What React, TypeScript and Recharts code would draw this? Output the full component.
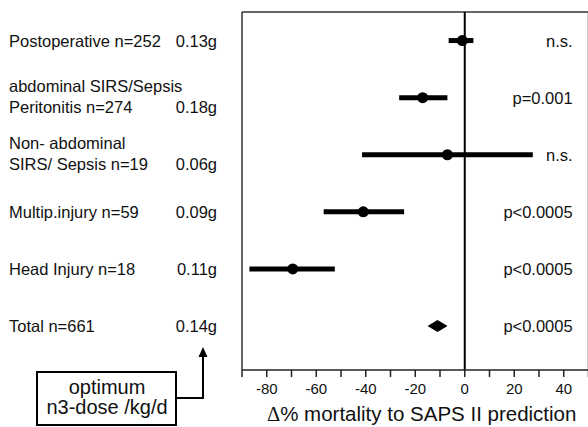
import {
  ScatterChart,
  Scatter,
  XAxis,
  YAxis,
  ErrorBar,
  ReferenceLine,
} from "recharts";

// rows, top to bottom
const rowIds = [1, 2, 3, 4, 5, 6];
const groupLabels = [
  ["Postoperative n=252"],
  ["abdominal SIRS/Sepsis", "Peritonitis n=274"],
  ["Non- abdominal", "SIRS/ Sepsis n=19"],
  ["Multip.injury n=59"],
  ["Head Injury n=18"],
  ["Total n=661"],
];
const doses = ["0.13g", "0.18g", "0.06g", "0.09g", "0.11g", "0.14g"];
const means = [-1, -17, -7, -41, -69.5, -11];
const lower = [-6.5, -26.5, -41.5, -57, -87, -14.5];
const upper = [3.5, -7, 27.5, -24.5, -52.5, -7];
const pValues = ["n.s.", "p=0.001", "n.s.", "p<0.0005", "p<0.0005", "p<0.0005"];
const xTicks = [-90, -80, -70, -60, -50, -40, -30, -20, -10, 0, 10, 20, 30, 40, 50];

const X_DOMAIN: [number, number] = [-90, 50];
const Y_DOMAIN: [number, number] = [0.5, 6.77];
const P_X = 43.6; // where the p-value column ends
const FONT = "'Liberation Sans', Arial, Helvetica, sans-serif";
const TEXT = "#111";

const subgroupData = rowIds.slice(0, 5).map((row, i) => ({
  x: means[i],
  y: row,
  err: [means[i] - lower[i], upper[i] - means[i]],
}));
const totalData = [{ x: means[5], y: rowIds[5] }];
const pData = rowIds.map((row, i) => ({ x: P_X, y: row, label: pValues[i] }));

const RowLabel = (props: any) => {
  const i = props.payload.value - 1;
  const cy = props.y;
  const lines = groupLabels[i];
  const base = lines.length === 1 ? [cy + 6] : [cy - 6, cy + 15];
  return (
    <g fontFamily={FONT} fontSize={16.5} fill={TEXT}>
      {lines.map((t, k) => (
        <text key={k} x={9} y={base[k]}>
          {t}
        </text>
      ))}
      <text x={217} y={base[base.length - 1]} textAnchor="end">
        {doses[i]}
      </text>
    </g>
  );
};

const Dot = (props: any) => <circle cx={props.cx} cy={props.cy} r={5.5} fill="#000" />;

const Diamond = (props: any) => {
  const { cx, cy } = props;
  return (
    <polygon
      points={`${cx - 10},${cy} ${cx},${cy - 6} ${cx + 10},${cy} ${cx},${cy + 6}`}
      fill="#000"
    />
  );
};

const PLabel = (props: any) => (
  <text
    x={props.cx}
    y={props.cy + 6}
    textAnchor="end"
    fontFamily={FONT}
    fontSize={16.5}
    fill={TEXT}
  >
    {props.payload.label}
  </text>
);

const AxisTitle = (props: any) => {
  const vb = props.viewBox;
  return (
    <text x={vb.x + 25} y={vb.y + 51} fontFamily={FONT} fontSize={20.5} fill={TEXT}>
      <tspan fontFamily="'Liberation Serif', 'Times New Roman', serif">Δ</tspan>
      <tspan>% mortality to SAPS II prediction</tspan>
    </text>
  );
};

const DoseNote = () => (
  <svg
    width={588}
    height={427}
    style={{ position: "absolute", left: 0, top: 0, pointerEvents: "none" }}
  >
    <rect x={37} y={372} width={139} height={53} fill="#fff" stroke="#000" strokeWidth={2} />
    <g fontFamily={FONT} fontSize={20} fill={TEXT} textAnchor="middle">
      <text x={107} y={394}>optimum</text>
      <text x={107} y={414}>n3-dose /kg/d</text>
    </g>
    <path d="M176 398 H203 V356" fill="none" stroke="#000" strokeWidth={2} />
    <polygon points="198.5,357 207.5,357 203,347" fill="#000" />
  </svg>
);

const App = () => {
  return (
    <div
      style={{
        position: "fixed",
        left: 0,
        top: 0,
        width: 588,
        height: 427,
        overflow: "hidden",
        background: "#fff",
      }}
    >
      <ScatterChart
        width={600}
        height={427}
        margin={{ top: 12, right: 11.5, bottom: 0, left: 0 }}
      >
        <XAxis
          type="number"
          dataKey="x"
          domain={X_DOMAIN}
          ticks={xTicks}
          allowDataOverflow
          tickFormatter={(v: number) => (v % 20 === 0 ? String(v) : "")}
          height={57}
          tickSize={7}
          tickMargin={6}
          axisLine={{ stroke: "#222", strokeWidth: 1.5 }}
          tickLine={{ stroke: "#222", strokeWidth: 1.5 }}
          tick={{ fill: TEXT, fontSize: 15, fontFamily: FONT }}
          label={<AxisTitle />}
        />
        <YAxis
          type="number"
          dataKey="y"
          domain={Y_DOMAIN}
          ticks={rowIds}
          reversed
          allowDataOverflow
          width={242}
          tickLine={false}
          axisLine={{ stroke: "#333", strokeWidth: 1.5 }}
          tick={<RowLabel />}
        />
        <ReferenceLine y={Y_DOMAIN[0]} stroke="#333" strokeWidth={1.5} />
        <ReferenceLine x={X_DOMAIN[1]} stroke="#333" strokeWidth={1.5} />
        <ReferenceLine x={0} stroke="#000" strokeWidth={2} />
        <Scatter data={subgroupData} shape={<Dot />} isAnimationActive={false}>
          <ErrorBar
            dataKey="err"
            direction="x"
            width={0}
            stroke="#000"
            strokeWidth={5}
            isAnimationActive={false}
          />
        </Scatter>
        <Scatter data={totalData} shape={<Diamond />} isAnimationActive={false} />
        <Scatter data={pData} shape={<PLabel />} isAnimationActive={false} />
      </ScatterChart>
      <DoseNote />
    </div>
  );
};

export default App;
